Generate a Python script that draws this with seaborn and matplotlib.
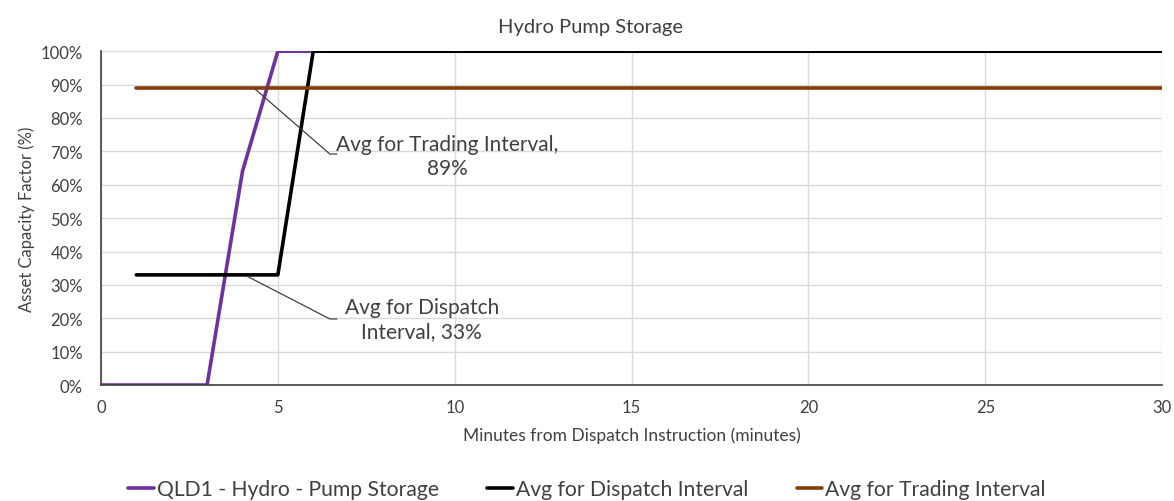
import numpy as np
import pandas as pd
import matplotlib.pyplot as plt
import seaborn as sns
from matplotlib.ticker import FuncFormatter

sns.set_theme(style="white")
plt.rcParams['font.family'] = ['Lato', 'DejaVu Sans']

# data
pump_x = [0, 1, 2, 3, 4, 5, 6, 10, 15, 20, 25, 30]
pump_y = [0, 0, 0, 0, 64, 100, 100, 100, 100, 100, 100, 100]
dispatch_x = [1, 2, 3, 4, 5, 6, 10, 15, 20, 25, 30]
dispatch_y = [33, 33, 33, 33, 33, 100, 100, 100, 100, 100, 100]
trading_x = [1, 30]
trading_y = [89, 89]

PURPLE = "#7030A0"
BROWN = "#843C0C"
TXT = "#404040"

fig = plt.figure(figsize=(11.74, 5.02), dpi=100)
ax = fig.add_axes([0.086, 0.231, 0.904, 0.665])

sns.lineplot(x=pump_x, y=pump_y, ax=ax, color=PURPLE, lw=2.6,
             label="QLD1 - Hydro - Pump Storage")
sns.lineplot(x=dispatch_x, y=dispatch_y, ax=ax, color="black", lw=2.6,
             label="Avg for Dispatch Interval")
sns.lineplot(x=trading_x, y=trading_y, ax=ax, color=BROWN, lw=2.6,
             label="Avg for Trading Interval")

ax.set_xlim(0, 30)
ax.set_ylim(0, 100)
ax.set_xticks(range(0, 31, 5))
ax.set_yticks(range(0, 101, 10))
ax.yaxis.set_major_formatter(FuncFormatter(lambda v, p: f"{int(v)}%"))
ax.grid(True, color="#d9d9d9", lw=1)
ax.set_axisbelow(True)
for s in ["top", "right"]:
    ax.spines[s].set_visible(False)
for s in ["left", "bottom"]:
    ax.spines[s].set_color("#404040")
    ax.spines[s].set_linewidth(1.2)
ax.tick_params(colors=TXT, labelsize=12, length=0)
ax.tick_params(axis="y", pad=13)
ax.tick_params(axis="x", pad=10)

ax.set_xlabel("Minutes from Dispatch Instruction (minutes)", color=TXT, fontsize=12.5, labelpad=8)
ax.set_ylabel("Asset Capacity Factor (%)", color=TXT, fontsize=12, labelpad=4)
# title is centred on the figure, not the plot area
ax.set_title("Hydro Pump Storage", color=TXT, fontsize=14.5, pad=14, x=0.461)

# data labels with leader lines
ax.plot([4.33, 6.47, 6.67], [88.9, 69.2, 69.2], color="#404040", lw=0.9)
ax.text(9.78, 68.6, "Avg for Trading Interval,\n89%", ha="center", va="center",
        color=TXT, fontsize=15, linespacing=1.3)
ax.plot([4.13, 6.47, 6.67], [32.6, 19.8, 19.8], color="#404040", lw=0.9)
ax.text(9.07, 19.8, "Avg for Dispatch\nInterval, 33%", ha="center", va="center",
        color=TXT, fontsize=15, linespacing=1.3)

ax.get_legend().remove()
handles, labels = ax.get_legend_handles_labels()
fig.legend(handles, labels, loc="center", bbox_to_anchor=(0.5, 0.024), ncol=3,
           frameon=False, fontsize=15.2, handlelength=1.2, handletextpad=0.15,
           columnspacing=2.3, labelcolor=TXT)

fig.savefig("out.png", dpi=100)
